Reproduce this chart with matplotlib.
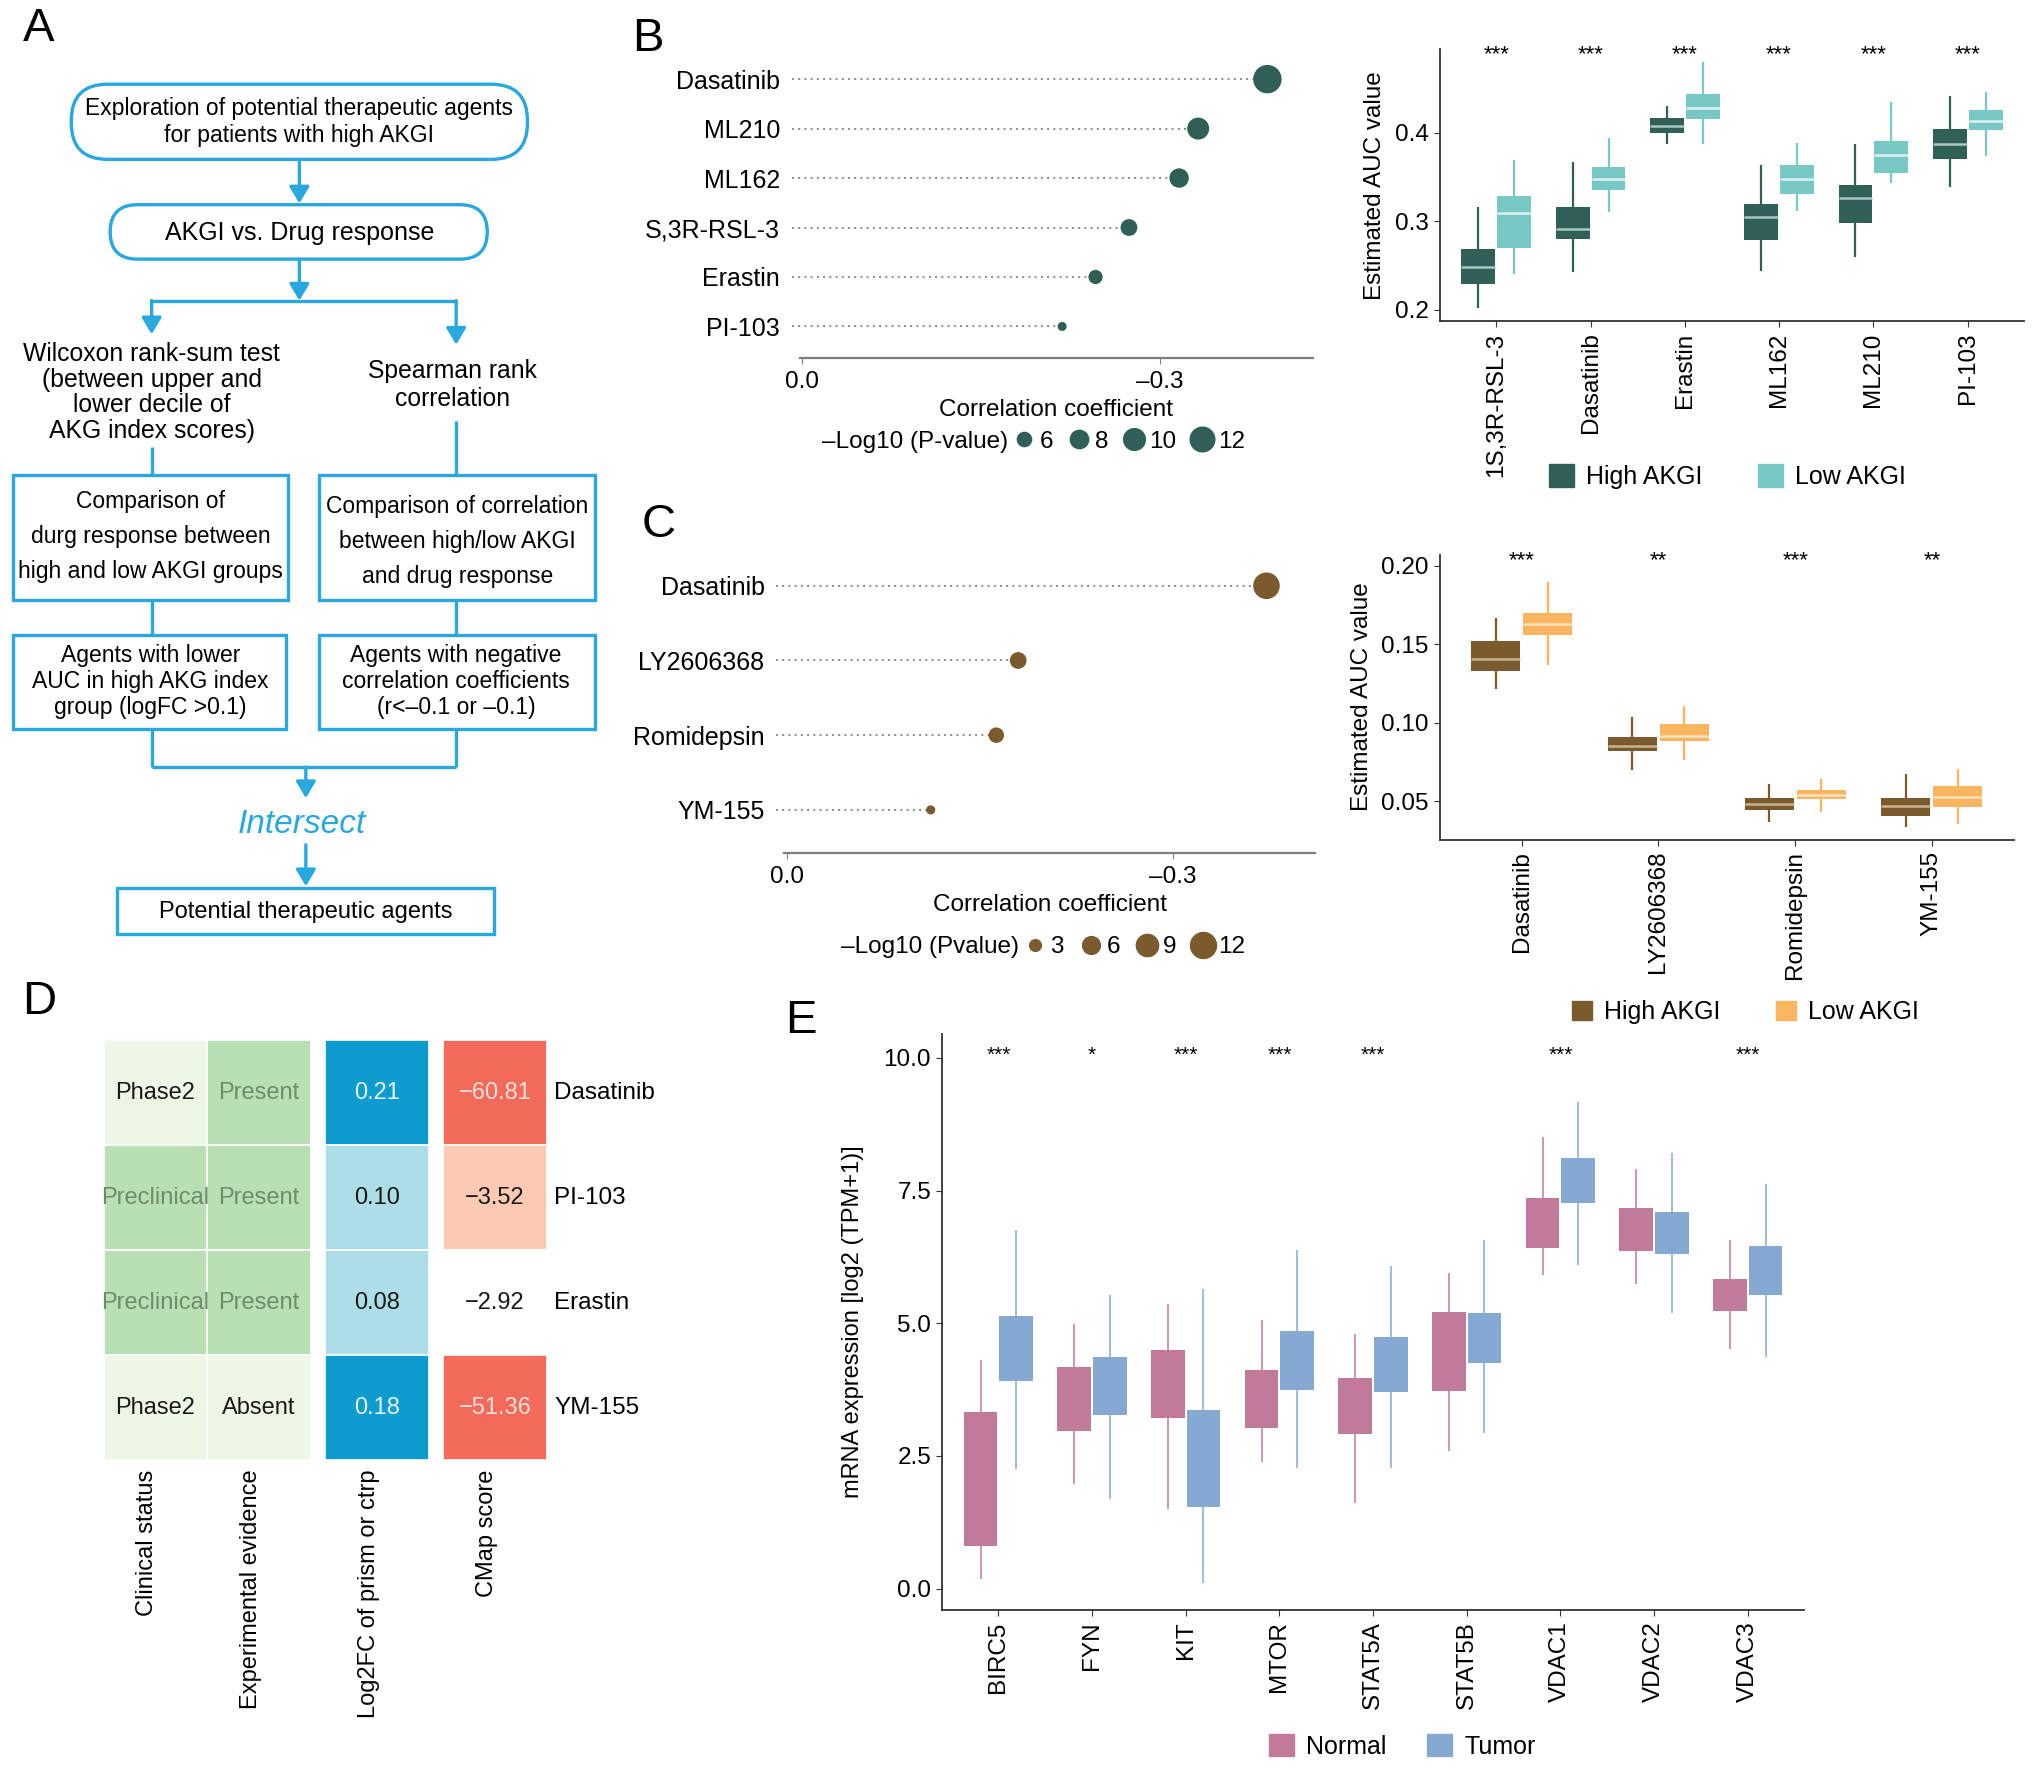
import matplotlib
matplotlib.use('Agg')
import matplotlib.pyplot as plt
from matplotlib.patches import Rectangle, FancyBboxPatch, Patch
from matplotlib.lines import Line2D

plt.rcParams['font.family'] = ['Liberation Sans', 'DejaVu Sans']

# ---------------- data ----------------
# B: lollipop (correlation of AKGI with drug AUC)
b_drugs = ['Dasatinib', 'ML210', 'ML162', 'S,3R-RSL-3', 'Erastin', 'PI-103']
b_corr = [-0.390, -0.332, -0.316, -0.274, -0.246, -0.218]
b_logp = [15.0, 10.2, 8.6, 7.2, 6.0, 4.2]
b_legend_vals = [6, 8, 10, 12]

# B: boxplots, each row = [whisker low, q1, median, q3, whisker high]
b_box_drugs = ['1S,3R-RSL-3', 'Dasatinib', 'Erastin', 'ML162', 'ML210', 'PI-103']
b_high = [[0.202, 0.229, 0.248, 0.269, 0.316],
          [0.243, 0.280, 0.291, 0.316, 0.367],
          [0.388, 0.400, 0.408, 0.417, 0.430],
          [0.244, 0.279, 0.305, 0.320, 0.364],
          [0.260, 0.298, 0.327, 0.341, 0.387],
          [0.339, 0.370, 0.388, 0.404, 0.442]]
b_low = [[0.241, 0.270, 0.309, 0.329, 0.369],
         [0.311, 0.336, 0.348, 0.362, 0.394],
         [0.388, 0.416, 0.428, 0.444, 0.480],
         [0.312, 0.331, 0.348, 0.364, 0.389],
         [0.343, 0.355, 0.375, 0.391, 0.435],
         [0.374, 0.403, 0.414, 0.426, 0.446]]
b_stars = ['***', '***', '***', '***', '***', '***']

# C: lollipop
c_drugs = ['Dasatinib', 'LY2606368', 'Romidepsin', 'YM-155']
c_corr = [-0.373, -0.180, -0.163, -0.112]
c_logp = [12.5, 5.4, 4.7, 2.1]
c_legend_vals = [3, 6, 9, 12]

# C: boxplots
c_box_drugs = ['Dasatinib', 'LY2606368', 'Romidepsin', 'YM-155']
c_high = [[0.1216, 0.1328, 0.1407, 0.1517, 0.1667],
          [0.0697, 0.0818, 0.0850, 0.0909, 0.1036],
          [0.0369, 0.0447, 0.0485, 0.0523, 0.0612],
          [0.0337, 0.0405, 0.0468, 0.0523, 0.0676]]
c_low = [[0.1364, 0.1555, 0.1629, 0.1697, 0.1894],
         [0.0761, 0.0881, 0.0913, 0.0994, 0.1104],
         [0.0432, 0.0511, 0.0542, 0.0574, 0.0644],
         [0.0358, 0.0464, 0.0528, 0.0597, 0.0708]]
c_stars = ['***', '**', '***', '**']

# D: summary heatmap
d_drugs = ['Dasatinib', 'PI-103', 'Erastin', 'YM-155']
d_clinical = ['Phase2', 'Preclinical', 'Preclinical', 'Phase2']
d_evidence = ['Present', 'Present', 'Present', 'Absent']
d_log2fc = [0.21, 0.10, 0.08, 0.18]
d_cmap = [-60.81, -3.52, -2.92, -51.36]
d_columns = ['Clinical status', 'Experimental evidence', 'Log2FC of prism or ctrp', 'CMap score']

# E: target gene expression, each row = [whisker low, q1, q3, whisker high]
e_genes = ['BIRC5', 'FYN', 'KIT', 'MTOR', 'STAT5A', 'STAT5B', 'VDAC1', 'VDAC2', 'VDAC3']
e_normal = [[0.18, 0.81, 3.32, 4.30],
            [1.98, 2.97, 4.18, 4.99],
            [1.50, 3.21, 4.50, 5.37],
            [2.38, 3.03, 4.11, 5.06],
            [1.62, 2.92, 3.96, 4.80],
            [2.60, 3.72, 5.22, 5.95],
            [5.90, 6.42, 7.35, 8.50],
            [5.74, 6.36, 7.18, 7.91],
            [4.52, 5.23, 5.83, 6.56]]
e_tumor = [[2.25, 3.92, 5.14, 6.75],
           [1.69, 3.27, 4.37, 5.54],
           [0.11, 1.53, 3.36, 5.65],
           [2.27, 3.75, 4.85, 6.38],
           [2.27, 3.70, 4.74, 6.08],
           [2.94, 4.26, 5.19, 6.56],
           [6.10, 7.27, 8.11, 9.16],
           [5.19, 6.31, 7.10, 8.20],
           [4.37, 5.54, 6.45, 7.63]]
e_stars = ['***', '*', '***', '***', '***', '', '***', '', '***']

# colours
blue = '#29A8E0'
teal_dark, teal_light = '#2F5F57', '#78C8C6'
brown, orange = '#7B5A2E', '#F9B560'
pink, sky = '#C27A9A', '#86A9D3'

# layout helper: reference laid out on a 1568 x 1370 grid
W, H = 1568.0, 1370.0


def rect(x0, y0, x1, y1):
    return [x0 / W, 1 - y1 / H, (x1 - x0) / W, (y1 - y0) / H]


fig = plt.figure(figsize=(20.32, 17.75), dpi=100)

# canvas for flow chart and panel letters
canvas = fig.add_axes([0, 0, 1, 1])
canvas.set_xlim(0, W)
canvas.set_ylim(H, 0)
canvas.axis('off')

for letter, (lx, ly) in zip('ABCDE', [(30, 22), (500, 30), (508, 405), (30, 773), (618, 788)]):
    canvas.text(lx, ly, letter, fontsize=34, ha='center', va='center')


# ---------------- A: flow chart ----------------
def fbox(x0, y0, x1, y1, rounding=None):
    if rounding:
        p = FancyBboxPatch((x0, y0), x1 - x0, y1 - y0,
                           boxstyle='round,pad=0,rounding_size=%d' % rounding,
                           fill=False, ec=blue, lw=2.4)
    else:
        p = Rectangle((x0, y0), x1 - x0, y1 - y0, fill=False, ec=blue, lw=2.4)
    canvas.add_patch(p)


def line(xs, ys):
    canvas.plot(xs, ys, color=blue, lw=2.4, solid_capstyle='butt')


def arrow(x, y0, y1):
    canvas.annotate('', xy=(x, y1), xytext=(x, y0),
                    arrowprops=dict(arrowstyle='-|>,head_length=0.5,head_width=0.3',
                                    color=blue, lw=2.4, shrinkA=0, shrinkB=0,
                                    mutation_scale=20))


fbox(55, 65, 407, 123, rounding=28)
canvas.text(231, 94, 'Exploration of potential therapeutic agents\nfor patients with high AKGI',
            ha='center', va='center', fontsize=16.5, linespacing=1.2)
arrow(231, 123, 157)
fbox(85, 158, 376, 200, rounding=21)
canvas.text(231, 180, 'AKGI vs. Drug response', ha='center', va='center', fontsize=18)
arrow(231, 200, 232)
line([117, 352], [232, 232])
arrow(117, 232, 258)
arrow(352, 232, 266)
canvas.text(117, 303, 'Wilcoxon rank-sum test\n(between upper and\nlower decile of\nAKG index scores)',
            ha='center', va='center', fontsize=17.8, linespacing=1.08)
canvas.text(349, 297, 'Spearman rank\ncorrelation', ha='center', va='center',
            fontsize=17.8, linespacing=1.2)
line([117, 117], [345, 367])
line([352, 352], [325, 367])
fbox(10, 367, 222, 463)
fbox(246, 367, 459, 463)
canvas.text(116, 414, 'Comparison of\ndurg response between\nhigh and low AKGI groups',
            ha='center', va='center', fontsize=16.5, linespacing=1.65)
canvas.text(353, 418, 'Comparison of correlation\nbetween high/low AKGI\nand drug response',
            ha='center', va='center', fontsize=16.5, linespacing=1.65)
line([117, 117], [463, 490])
line([352, 352], [463, 490])
fbox(10, 490, 221, 563)
fbox(246, 490, 459, 563)
canvas.text(116, 526, 'Agents with lower\nAUC in high AKG index\ngroup (logFC >0.1)',
            ha='center', va='center', fontsize=16.5, linespacing=1.18)
canvas.text(352, 526, 'Agents with negative\ncorrelation coefficients\n(r<\u20130.1 or \u20130.1)',
            ha='center', va='center', fontsize=16.5, linespacing=1.18)
line([117, 117], [563, 592])
line([352, 352], [563, 592])
line([117, 352], [592, 592])
arrow(236, 592, 616)
canvas.text(233, 636, 'Intersect', ha='center', va='center', fontsize=24,
            style='italic', color=blue)
arrow(236, 652, 684)
fbox(90, 685, 381, 721)
canvas.text(236, 704, 'Potential therapeutic agents', ha='center', va='center', fontsize=17)


# ---------------- lollipop panels ----------------
def lollipop(ax, names, corr, logp, color, size_fn, xmax, ylim):
    y = list(range(1, len(names) + 1))
    ax.hlines(y, 0.008, corr, colors='#8C8C8C', linestyles=(0, (1, 2.2)), lw=1.4, zorder=1,
              clip_on=False)
    ax.scatter(corr, y, s=[size_fn(v) for v in logp], color=color, zorder=3,
               edgecolors='none', clip_on=False)
    ax.set_yticks(y)
    ax.set_yticklabels(names, fontsize=18)
    ax.set_xlim(0.002, xmax)
    ax.set_ylim(*ylim)
    ax.set_xticks([0, -0.3])
    ax.set_xticklabels(['0.0', '\u20130.3'])
    for s in ['top', 'right', 'left']:
        ax.spines[s].set_visible(False)
    ax.spines['bottom'].set_color('#7F7F7F')
    ax.spines['bottom'].set_linewidth(1.6)
    ax.tick_params(axis='y', length=0, pad=14)
    ax.tick_params(axis='x', length=4, color='#7F7F7F', labelsize=17.5, pad=6)
    ax.set_xlabel('Correlation coefficient', fontsize=17.5, labelpad=4)
    ax.patch.set_alpha(0)


def size_b(v):
    return 34.9 * (v - 3)


def size_c(v):
    return 31.0 * (v - 0.7)


ax_bl = fig.add_axes(rect(617, 42, 1013, 276))
lollipop(ax_bl, b_drugs, b_corr, b_logp, teal_dark, size_b, -0.428, (6.63, 0.5))
fig.text(778 / W, 1 - 341 / H, '\u2013Log10 (P-value)', ha='right', va='center', fontsize=17.5)
hb = [Line2D([], [], ls='', marker='o', color=teal_dark, markersize=size_b(v) ** 0.5)
      for v in b_legend_vals]
fig.legend(hb, [str(v) for v in b_legend_vals], loc='center left',
           bbox_to_anchor=(781 / W, 1 - 341 / H), ncol=4, frameon=False, fontsize=17.5,
           handletextpad=0.15, columnspacing=0.55, handlelength=1.0, borderpad=0,
           borderaxespad=0)

ax_cl = fig.add_axes(rect(605, 425, 1015, 658))
lollipop(ax_cl, c_drugs, c_corr, c_logp, brown, size_c, -0.411, (4.57, 0.53))
fig.text(786 / W, 1 - 731 / H, '\u2013Log10 (Pvalue)', ha='right', va='center', fontsize=17.5)
hc = [Line2D([], [], ls='', marker='o', color=brown, markersize=size_c(v) ** 0.5)
      for v in c_legend_vals]
fig.legend(hc, [str(v) for v in c_legend_vals], loc='center left',
           bbox_to_anchor=(789 / W, 1 - 731 / H), ncol=4, frameon=False, fontsize=17.5,
           handletextpad=0.15, columnspacing=0.6, handlelength=1.0, borderpad=0,
           borderaxespad=0)


# ---------------- box panels ----------------
def draw_boxes(ax, stats, offset, color, med_color=None, width=0.36, wlw=1.6, walpha=1.0):
    for i, st in enumerate(stats):
        x = i + 1 + offset
        if len(st) == 5:
            lo, q1, med, q3, hi = st
        else:
            lo, q1, q3, hi = st
            med = None
        ax.vlines(x, lo, q1, color=color, lw=wlw, alpha=walpha, zorder=1)
        ax.vlines(x, q3, hi, color=color, lw=wlw, alpha=walpha, zorder=1)
        ax.bar(x, q3 - q1, bottom=q1, width=width, color=color, zorder=2)
        if med is not None and med_color:
            ax.hlines(med, x - width / 2, x + width / 2, color=med_color, lw=1.8, zorder=3)


def style_box_axes(ax, cats, stars, star_y, ylabel, yticks, yticklabels, ylim, star_size=16):
    ax.set_xlim(0.4, len(cats) + 0.6)
    ax.set_ylim(*ylim)
    ax.set_xticks(range(1, len(cats) + 1))
    ax.set_xticklabels(cats, rotation=90, fontsize=17.5)
    ax.set_yticks(yticks)
    ax.set_yticklabels(yticklabels, fontsize=17.5)
    ax.set_ylabel(ylabel, fontsize=17.5, labelpad=6)
    for s in ['top', 'right']:
        ax.spines[s].set_visible(False)
    for s in ['left', 'bottom']:
        ax.spines[s].set_color('#333333')
        ax.spines[s].set_linewidth(1.3)
    ax.tick_params(length=4, color='#333333', pad=4)
    for i, st in enumerate(stars):
        ax.text(i + 1, star_y, st, ha='center', va='center', fontsize=star_size)
    ax.patch.set_alpha(0)


ax_bb = fig.add_axes(rect(1111, 38, 1562, 248))
draw_boxes(ax_bb, b_high, -0.19, teal_dark, '#A9C8C2')
draw_boxes(ax_bb, b_low, 0.19, teal_light, '#DDF2F1')
style_box_axes(ax_bb, b_box_drugs, b_stars, 0.488, 'Estimated AUC value',
               [0.2, 0.3, 0.4], ['0.2', '0.3', '0.4'], (0.187, 0.4947))
fig.legend([Patch(color=teal_dark), Patch(color=teal_light)], ['High AKGI', 'Low AKGI'],
           loc='center', bbox_to_anchor=(1333 / W, 1 - 368 / H), ncol=2, frameon=False,
           fontsize=18, handlelength=1.0, handleheight=1.0, columnspacing=2.2,
           handletextpad=0.5)

ax_cb = fig.add_axes(rect(1111, 428, 1554, 648))
draw_boxes(ax_cb, c_high, -0.19, brown, '#C9B391')
draw_boxes(ax_cb, c_low, 0.19, orange, '#FDE3BE')
style_box_axes(ax_cb, c_box_drugs, c_stars, 0.2032, 'Estimated AUC value',
               [0.05, 0.10, 0.15, 0.20], ['0.05', '0.10', '0.15', '0.20'], (0.0256, 0.207))
fig.legend([Patch(color=brown), Patch(color=orange)], ['High AKGI', 'Low AKGI'],
           loc='center', bbox_to_anchor=(1347 / W, 1 - 781 / H), ncol=2, frameon=False,
           fontsize=18, handlelength=0.8, handleheight=0.8, columnspacing=2.2,
           handletextpad=0.5)

ax_e = fig.add_axes(rect(727, 798, 1392, 1243))
draw_boxes(ax_e, e_normal, -0.19, pink, wlw=1.3, walpha=0.85)
draw_boxes(ax_e, e_tumor, 0.19, sky, wlw=1.3, walpha=0.85)
style_box_axes(ax_e, e_genes, e_stars, 10.05, 'mRNA expression [log2 (TPM+1)]',
               [0, 2.5, 5, 7.5, 10], ['0.0', '2.5', '5.0', '7.5', '10.0'], (-0.41, 10.45),
               star_size=15)
ax_e.set_ylabel('mRNA expression [log2 (TPM+1)]', fontsize=17, labelpad=14)
fig.legend([Patch(color=pink), Patch(color=sky)], ['Normal', 'Tumor'],
           loc='center', bbox_to_anchor=(1082 / W, 1 - 1348 / H), ncol=2, frameon=False,
           fontsize=18, handlelength=1.0, handleheight=1.0, columnspacing=1.6,
           handletextpad=0.5)

# ---------------- D: heatmap ----------------
ax_d = fig.add_axes(rect(80, 803, 422, 1127))
col_x = [0, 1, 2.1375, 3.275]
ax_d.set_xlim(0, 4.275)
ax_d.set_ylim(4, 0)
ax_d.axis('off')

stage_colors = {'Phase2': '#EEF7E6', 'Preclinical': '#B9DFB4'}
evidence_colors = {'Present': '#B9DFB4', 'Absent': '#EEF7E6'}
muted_text = '#6E8C6A'
dark_text = '#1A1A1A'


def cell(col, row, face, text, tcolor):
    ax_d.add_patch(Rectangle((col_x[col], row), 1, 1, facecolor=face, edgecolor='white', lw=1.2))
    ax_d.text(col_x[col] + 0.5, row + 0.5, text, ha='center', va='center', fontsize=17,
              color=tcolor)


for r in range(len(d_drugs)):
    st = d_clinical[r]
    cell(0, r, stage_colors[st], st, dark_text if st == 'Phase2' else muted_text)
    ev = d_evidence[r]
    cell(1, r, evidence_colors[ev], ev, dark_text if ev == 'Absent' else muted_text)
    fc = d_log2fc[r]
    if fc >= 0.15:
        cell(2, r, '#0E9BD0', '%.2f' % fc, '#E6F5FB')
    else:
        cell(2, r, '#ADDDE7', '%.2f' % fc, dark_text)
    cm = d_cmap[r]
    label = '\u2212%.2f' % abs(cm)
    if cm < -10:
        cell(3, r, '#F26A5A', label, '#FBE1DC')
    elif cm < -3:
        cell(3, r, '#FCCAB2', label, dark_text)
    else:
        cell(3, r, 'white', label, dark_text)
    ax_d.text(4.275 + 0.07, r + 0.5, d_drugs[r], ha='left', va='center', fontsize=17.5,
              clip_on=False)

for c, name in enumerate(d_columns):
    ax_d.text(col_x[c] + 0.42, 4.09, name, rotation=90, ha='center', va='top',
              fontsize=17, clip_on=False)

fig.savefig('out.png', dpi=100)
print("Plot saved as out.png")
